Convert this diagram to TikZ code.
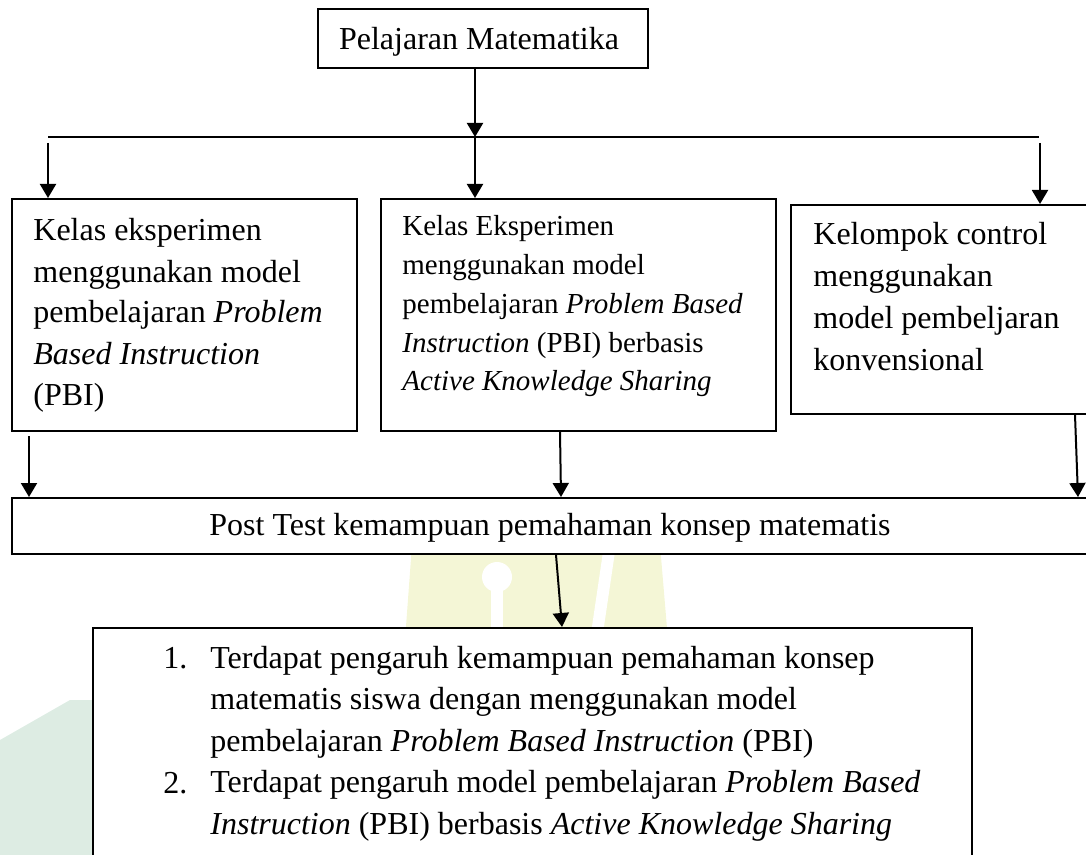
\documentclass[tikz,border=0pt]{standalone}
\usepackage{fontspec}
\setmainfont{Liberation Serif}
\usetikzlibrary{arrows.meta,fit}
\definecolor{wmyellow}{RGB}{244,246,214}
\definecolor{wmgreen}{RGB}{221,236,227}
\begin{document}
\begin{tikzpicture}[x=0.5pt,y=-0.5pt,>={Triangle[length=7pt,width=8pt]},
  box/.style={draw,line width=1pt,fill=white,inner sep=0pt},
  txt/.style={anchor=base west,align=left,inner sep=0pt,font=\fontsize{16}{20.5}\selectfont},
  link/.style={line width=1pt,->}]
  \useasboundingbox (0,0) rectangle (1086,855);
  \clip (0,0) rectangle (1086,855);
  % faint logo behind the boxes
  \fill[wmgreen] (0,740) -- (70,700) -- (130,700) -- (130,855) -- (0,855) -- cycle;
  \fill[wmyellow] (405,640) -- (412,545) -- (660,545) -- (668,640) -- cycle;
  \fill[white] (497,577) circle[radius=7.5pt];
  \fill[white] (491,577) rectangle (503,640);
  \fill[white] (590,640) -- (604,545) -- (616,545) -- (602,640) -- cycle;
  % boxes
  \node[box,fit={(318,9) (648,68)}] (mat) {};
  \node[box,fit={(12,199) (357,431)}] (exp1) {};
  \node[box,fit={(381,199) (776,431)}] (exp2) {};
  \node[box,fit={(791,205) (1100,414)}] (ctrl) {};
  \node[box,fit={(12,498) (1100,554)}] (post) {};
  \node[box,fit={(93,628) (972,900)}] (hasil) {};
  % texts (anchored on the baseline of their last line)
  \node[txt,anchor=base] (t0) at (479,50) {Pelajaran Matematika};
  \node[txt] (t1) at (33,405) {Kelas eksperimen\\menggunakan model\\pembelajaran \textit{Problem}\\\textit{Based Instruction}\\(PBI)};
  \node[txt,font=\fontsize{14.5}{19.4}\selectfont] (t2) at (402,391) {Kelas Eksperimen\\menggunakan model\\pembelajaran \textit{Problem Based}\\\textit{Instruction} (PBI) berbasis\\\textit{Active Knowledge Sharing}};
  \node[txt,font=\fontsize{16}{21}\selectfont] (t3) at (813,371) {Kelompok control\\menggunakan\\model pembeljaran\\konvensional};
  \node[txt,anchor=base] (t4) at (550,535) {Post Test kemampuan pemahaman konsep matematis};
  \node[txt] (n1) at (163,668) {1.};
  \node[txt] (n2) at (163,793) {2.};
  \node[txt,font=\fontsize{16}{20.75}\selectfont] (t5) at (210,834) {Terdapat pengaruh kemampuan pemahaman konsep\\matematis siswa dengan menggunakan model\\pembelajaran \textit{Problem Based Instruction} (PBI)\\Terdapat pengaruh model pembelajaran \textit{Problem Based}\\\textit{Instruction} (PBI) berbasis \textit{Active Knowledge Sharing}};
  % connectors
  \coordinate (hub) at (475,137);
  \coordinate (barL) at (48,137);
  \coordinate (barR) at (1039,137);
  \coordinate (l1) at (48,143);
  \coordinate (r1) at (1040,143);
  \coordinate (l2) at (29,436);
  \draw[line width=1pt] (barL) -- (barR);
  \draw[link] (hub |- mat.south) -- (hub);
  \draw[link] (hub) -- (hub |- exp2.north);
  \draw[link] (l1) -- (l1 |- exp1.north);
  \draw[link] (r1) -- (r1 |- ctrl.north);
  \draw[link] (l2) -- (l2 |- post.north);
  \draw[link] ([xshift=-9.25pt]exp2.south) -- ([xshift=275pt]post.north west);
  \draw[link] ([xshift=142.5pt]ctrl.south west) -- ([xshift=533.5pt]post.north west);
  \draw[link] ([xshift=272.5pt]post.south west) -- ([xshift=235pt]hasil.north west);
\end{tikzpicture}
\end{document}
